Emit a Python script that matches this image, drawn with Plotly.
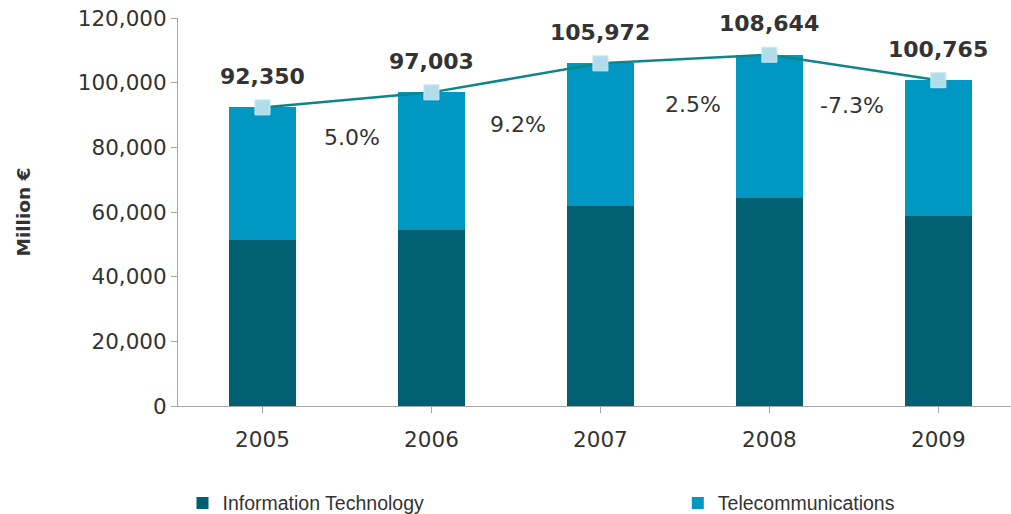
import plotly.graph_objects as go

# Market value by segment, million euro
years = ["2005", "2006", "2007", "2008", "2009"]
it_values = [51450, 54500, 61900, 64400, 58800]
totals = [92350, 97003, 105972, 108644, 100765]
telecom_values = [t - i for t, i in zip(totals, it_values)]

# year-on-year growth of the total market
growth = [(totals[k + 1] / totals[k] - 1) * 100 for k in range(len(totals) - 1)]

# placement of the growth labels (category index, value axis)
growth_label_x = [0.53, 1.51, 2.55, 3.49]
growth_label_y = [83000, 87100, 93300, 93000]

IT_COLOR = "#005f70"
TEL_COLOR = "#0098c3"
LINE_COLOR = "#0e8589"
MARKER_COLOR = "#b0dde9"
TEXT_COLOR = "#333333"
AXIS_COLOR = "#a6a6a6"
FONT = "DejaVu Sans"

x_idx = list(range(len(years)))

fig = go.Figure()
fig.add_trace(go.Bar(
    x=x_idx, y=it_values, name="Information Technology",
    marker=dict(color=IT_COLOR, line=dict(width=0)), width=0.4,
    legend="legend",
))
fig.add_trace(go.Bar(
    x=x_idx, y=telecom_values, name="Telecommunications",
    marker=dict(color=TEL_COLOR, line=dict(width=0)), width=0.4,
    legend="legend2",
))
fig.add_trace(go.Scatter(
    x=x_idx, y=totals, mode="lines+markers", showlegend=False,
    line=dict(color=LINE_COLOR, width=2.5),
    marker=dict(symbol="square", size=15, color=MARKER_COLOR,
                line=dict(color="#c8e8f0", width=1)),
))

# total value labels above the line markers
for xi, t in zip(x_idx, totals):
    fig.add_annotation(
        x=xi, y=t, text=f"<b>{t:,}</b>", showarrow=False,
        yanchor="middle", yshift=31,
        font=dict(family=FONT, size=22, color=TEXT_COLOR),
    )

# growth labels between the years
for gx, gy, g in zip(growth_label_x, growth_label_y, growth):
    fig.add_annotation(
        x=gx, y=gy, text=f"{g:.1f}%", showarrow=False,
        font=dict(family=FONT, size=22, color=TEXT_COLOR),
    )

legend_style = dict(
    orientation="h", yref="container", y=0.021, yanchor="middle",
    xanchor="left", bgcolor="rgba(0,0,0,0)",
    font=dict(family="Liberation Sans", size=19.5, color=TEXT_COLOR),
    itemwidth=30,
)

fig.update_layout(
    width=1011, height=514,
    margin=dict(l=178, r=0, t=18, b=108),
    barmode="stack",
    plot_bgcolor="white", paper_bgcolor="white",
    font=dict(family=FONT, size=21.5, color=TEXT_COLOR),
    xaxis=dict(
        range=[-0.5, 4.43],
        tickmode="array", tickvals=x_idx, ticktext=years,
        showgrid=False, zeroline=False,
        showline=True, linecolor=AXIS_COLOR, linewidth=1,
        ticks="outside", ticklen=6, tickcolor=AXIS_COLOR,
        tickson="boundaries",
        tickfont=dict(family=FONT, size=21.5, color=TEXT_COLOR),
        ticklabelstandoff=8,
    ),
    yaxis=dict(
        range=[0, 120000], tickmode="linear", dtick=20000,
        tickformat=",d",
        showgrid=False, zeroline=False,
        showline=True, linecolor=AXIS_COLOR, linewidth=1,
        ticks="outside", ticklen=6, tickcolor=AXIS_COLOR,
        tickfont=dict(family=FONT, size=21.5, color=TEXT_COLOR),
        title=dict(text="<b>Million €</b>", standoff=42,
                   font=dict(family=FONT, size=18.5, color=TEXT_COLOR)),
    ),
    legend=dict(x=0.0054, **legend_style),
    legend2=dict(x=0.600, **legend_style),
    bargap=0.6,
)

fig.write_html("out.html")
